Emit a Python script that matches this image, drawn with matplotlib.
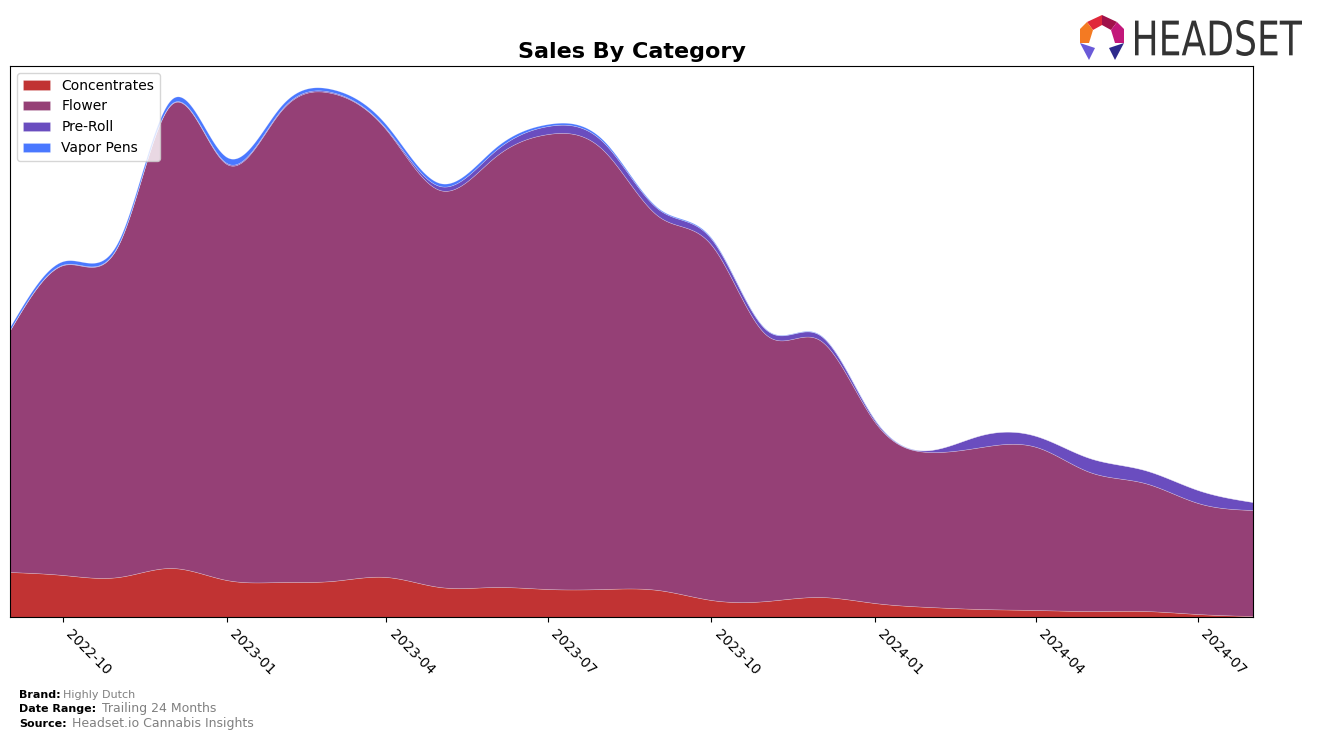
"""Sales by category stacked area chart."""

import matplotlib
matplotlib.use("Agg")
import matplotlib.pyplot as plt
import matplotlib.dates as mdates
from matplotlib.patches import Polygon, PathPatch
from matplotlib.textpath import TextPath
from matplotlib.font_manager import FontProperties
from matplotlib.transforms import Affine2D
import numpy as np
import pandas as pd

# monthly data
months = pd.date_range("2022-09-01", "2024-08-01", freq="MS")
categories = ["Concentrates", "Flower", "Pre-Roll", "Vapor Pens"]
concentrates = [45, 42, 40, 49, 37, 35, 36, 40, 30, 30, 28, 28,
                27, 17, 16, 20, 14, 10, 8, 7, 6, 6, 3, 1]
flower = [242, 310, 332, 464, 416, 472, 488, 447, 397, 430, 455, 439,
          374, 355, 266, 257, 181, 155, 162, 163, 139, 128, 111, 106]
pre_roll = [0.3, 0.5, 0.5, 0.5, 1, 1, 1, 1, 4, 6, 8, 8,
            7, 6, 5, 5, 2, 2, 12, 11, 14, 13, 13, 8]
vapor_pens = [3, 3.5, 3.5, 4.5, 6, 4, 3, 4, 3, 3, 2, 2,
              1, 1, 0.5, 0.5, 0.5, 0, 0, 0, 0, 0, 0, 0]
colors = ["#c13333", "#954076", "#6a4dbf", "#4a78ff"]


def natural_spline(x, y, xs):
    """Natural cubic spline through (x, y), evaluated at xs."""
    x = np.asarray(x, float)
    y = np.asarray(y, float)
    n = len(x)
    h = np.diff(x)
    A = np.zeros((n, n))
    rhs = np.zeros(n)
    A[0, 0] = A[-1, -1] = 1
    for i in range(1, n - 1):
        A[i, i - 1] = h[i - 1]
        A[i, i] = 2 * (h[i - 1] + h[i])
        A[i, i + 1] = h[i]
        rhs[i] = 3 * ((y[i + 1] - y[i]) / h[i] - (y[i] - y[i - 1]) / h[i - 1])
    c = np.linalg.solve(A, rhs)
    b = (y[1:] - y[:-1]) / h - h * (2 * c[:-1] + c[1:]) / 3
    d = (c[1:] - c[:-1]) / (3 * h)
    idx = np.clip(np.searchsorted(x, xs) - 1, 0, n - 2)
    t = xs - x[idx]
    return y[idx] + b[idx] * t + c[idx] * t ** 2 + d[idx] * t ** 3


fig = plt.figure(figsize=(13.17, 7.4), dpi=100)
ax = fig.add_axes([0.0076, 0.1662, 0.9438, 0.7446])

x_num = mdates.date2num(months)
xs = np.linspace(x_num[0], x_num[-1], 800)
series = [concentrates, flower, pre_roll, vapor_pens]
smooth = [np.clip(natural_spline(x_num, s, xs), 0, None) for s in series]

ax.stackplot(xs, *smooth, labels=categories, colors=colors, linewidth=0.4,
             edgecolor="#ffffff55")

ax.set_xlim(x_num[0], x_num[-1])
ax.set_ylim(0, 551)
ax.xaxis_date()
ax.xaxis.set_major_locator(mdates.MonthLocator(bymonth=[1, 4, 7, 10]))
ax.xaxis.set_major_formatter(mdates.DateFormatter("%Y-%m"))
ax.set_yticks([])
plt.setp(ax.get_xticklabels(), rotation=-45, ha="left", fontsize=10)
ax.set_title("Sales By Category", fontsize=16, fontweight="bold")
ax.legend(loc="upper left", fontsize=10)

# footer
fig.text(0.0144, 0.0565, "Brand:", fontsize=8, fontweight="bold")
fig.text(0.048, 0.0565, "Highly Dutch", fontsize=8, color="gray")
fig.text(0.0144, 0.0375, "Date Range:", fontsize=8, fontweight="bold")
fig.text(0.0775, 0.0375, "Trailing 24 Months", fontsize=9, color="gray")
fig.text(0.0144, 0.0175, "Source:", fontsize=8, fontweight="bold")
fig.text(0.0547, 0.0175, "Headset.io Cannabis Insights", fontsize=9, color="gray")

# logo, laid out in pixel units inside a small axes (x 1075..1310, y 12..62)
lax = fig.add_axes([1075 / 1317, 1 - 62 / 740, 235 / 1317, 50 / 740])
lax.set_xlim(0, 235)
lax.set_ylim(0, 50)
lax.axis("off")

word = TextPath((0, 0), "HEADSET", size=1, prop=FontProperties(family="DejaVu Sans"))
ext = word.get_extents()
sx = 167 / ext.width
sy = 36 / ext.height
word = Affine2D().translate(-ext.x0, -ext.y0).scale(sx, sy).translate(60, 6).transform_path(word)
lax.add_patch(PathPatch(word, color="#333333", lw=0))

pieces = [
    ([(27, 47), (12, 40), (18, 32), (27, 37)], "#e0283a"),
    ([(27, 47), (42, 40), (36, 32), (27, 37)], "#a0124a"),
    ([(12, 40), (5, 33), (5, 19), (14, 19), (18, 32)], "#f47a22"),
    ([(42, 40), (49, 33), (49, 19), (40, 19), (36, 32)], "#c2187a"),
    ([(5, 19), (20, 14), (14, 2)], "#6a5ad8"),
    ([(49, 19), (34, 14), (40, 2)], "#2e2a8c"),
]
for pts, col in pieces:
    lax.add_patch(Polygon(pts, closed=True, color=col, lw=0))

fig.savefig("out.png", dpi=100)
